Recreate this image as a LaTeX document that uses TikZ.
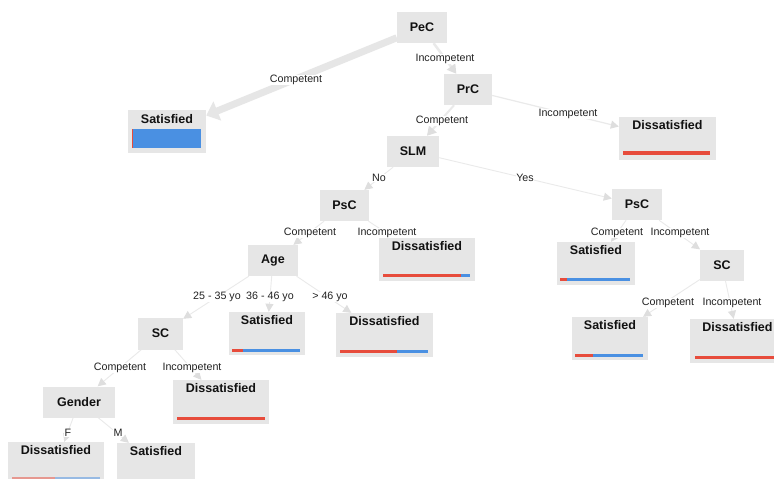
\documentclass[tikz,border=0pt]{standalone}
\usepackage{fontspec}
\setmainfont{Liberation Sans}
\usetikzlibrary{arrows.meta,backgrounds}
\definecolor{boxg}{HTML}{E6E6E6}
\definecolor{edg}{HTML}{EAEAEA}
\definecolor{thickg}{HTML}{E6E6E6}
\definecolor{tipg}{HTML}{DEDEDE}
\definecolor{barblue}{HTML}{4A90E2}
\definecolor{barred}{HTML}{E74C3C}
\definecolor{txt}{HTML}{111111}
\definecolor{ltxt}{HTML}{222222}
\begin{document}
\begin{tikzpicture}[x=1pt,y=-1pt,
  dec/.style={rectangle, fill=boxg, minimum height=31pt, inner sep=0pt,
    font=\bfseries\fontsize{12.5}{14}\selectfont, text=txt},
  leaf/.style={rectangle, fill=boxg, inner sep=0pt},
  ttl/.style={font=\bfseries\fontsize{12.5}{14}\selectfont, text=txt, inner sep=0pt},
  elab/.style={font=\fontsize{10.7}{12}\selectfont, text=ltxt, fill=white, inner sep=0.6pt},
  edge/.style={draw=edg, line width=0.9pt, -{Triangle[length=8pt,width=8pt,color=tipg]}},
  rbar/.style={fill=barred},
  bbar/.style={fill=barblue},
]
\useasboundingbox (0,0) rectangle (774,479);
\clip (0,0) rectangle (774,479);
\begin{pgfonlayer}{background}
\fill[white] (0,0) rectangle (774,479);
\end{pgfonlayer}

% decision nodes
\node[dec, minimum width=50pt] (pec) at (422,27.5) {PeC};
\node[dec, minimum width=48pt] (prc) at (468,89.5) {PrC};
\node[dec, minimum width=52pt] (slm) at (413,151.5) {SLM};
\node[dec, minimum width=49pt] (psc1) at (344.5,205.5) {PsC};
\node[dec, minimum width=50pt] (age) at (273,260.5) {Age};
\node[dec, minimum width=45pt, minimum height=32pt] (sc1) at (160.5,333.5) {SC};
\node[dec, minimum width=72pt] (gen) at (79,402) {Gender};
\node[dec, minimum width=50pt] (psc2) at (637,204.5) {PsC};
\node[dec, minimum width=44pt] (sc2) at (722,265) {SC};

% leaf nodes
\node[leaf, minimum width=78pt, minimum height=43pt] (sat1) at (167,131.5) {};
\node[leaf, minimum width=97pt, minimum height=43pt] (dis1) at (667.5,138.5) {};
\node[leaf, minimum width=96pt, minimum height=43pt] (dis2) at (427,259.5) {};
\node[leaf, minimum width=76pt, minimum height=43pt] (sat2) at (267,333.5) {};
\node[leaf, minimum width=97pt, minimum height=44pt] (dis3) at (384.5,335) {};
\node[leaf, minimum width=78pt, minimum height=43pt] (sat3) at (596,263.5) {};
\node[leaf, minimum width=76pt, minimum height=43pt] (sat4) at (610,338.5) {};
\node[leaf, minimum width=97pt, minimum height=44pt] (dis4) at (738.5,341) {};
\node[leaf, minimum width=96pt, minimum height=44pt] (dis5) at (221,402) {};
\node[leaf, minimum width=96pt, minimum height=44pt] (dis6) at (56,464) {};
\node[leaf, minimum width=78pt, minimum height=44pt] (sat5) at (156,465) {};

% leaf titles
\node[ttl] at ([yshift=-9pt]sat1.north) {Satisfied};
\node[ttl] at ([yshift=-8.5pt]dis1.north) {Dissatisfied};
\node[ttl] at ([yshift=-8.5pt]dis2.north) {Dissatisfied};
\node[ttl] at ([yshift=-8.5pt]sat2.north) {Satisfied};
\node[ttl] at ([yshift=-8.5pt]dis3.north) {Dissatisfied};
\node[ttl] at ([yshift=-8.5pt]sat3.north) {Satisfied};
\node[ttl] at ([yshift=-8.5pt]sat4.north) {Satisfied};
\node[ttl] at ([xshift=-1pt,yshift=-8.5pt]dis4.north) {Dissatisfied};
\node[ttl] at ([yshift=-8.5pt]dis5.north) {Dissatisfied};
\node[ttl] at ([yshift=-8.5pt]dis6.north) {Dissatisfied};
\node[ttl] at ([yshift=-8.5pt]sat5.north) {Satisfied};

% bars
\fill[bbar] (132,129) rectangle (201,148);
\fill[rbar] (132,129) rectangle (133.3,148);
\fill[rbar] (623,151) rectangle (710,155);
\fill[rbar] (383,274) rectangle (461,276.5);
\fill[bbar] (461,274) rectangle (470,276.5);
\fill[rbar] (232,349) rectangle (243,351.5);
\fill[bbar] (243,349) rectangle (300,351.5);
\fill[rbar] (340,350) rectangle (397,352.5);
\fill[bbar] (397,350) rectangle (428,352.5);
\fill[rbar] (560,278) rectangle (567,280.5);
\fill[bbar] (567,278) rectangle (630,280.5);
\fill[rbar] (575,354) rectangle (593,356.5);
\fill[bbar] (593,354) rectangle (643,356.5);
\fill[rbar] (695,356) rectangle (790,358.5);
\fill[rbar] (177,417) rectangle (265,419.5);
\fill[rbar, opacity=0.5] (12,477) rectangle (55,479.5);
\fill[bbar, opacity=0.5] (55,477) rectangle (100,479.5);

\begin{pgfonlayer}{background}
% edges
\draw[edge, draw=thickg, line width=7pt, -{Triangle[length=12pt,width=20pt,color=thickg]}] (pec) -- (sat1);
\draw[edge, line width=2.5pt, -{Triangle[length=9pt,width=10pt,color=tipg]}] (pec) -- (prc);
\draw[edge, line width=2pt, -{Triangle[length=9pt,width=10pt,color=tipg]}] (prc) -- (slm);
\draw[edge, line width=1.2pt] (prc) -- (dis1);
\draw[edge] (slm) -- (psc1);
\draw[edge] (slm) -- (psc2);
\draw[edge] (psc1) -- (age);
\draw[edge] (psc1) -- (dis2);
\draw[edge] (age) -- (sc1);
\draw[edge] (age) -- (sat2);
\draw[edge] (age) -- (dis3);
\draw[edge] (sc1) -- (gen);
\draw[edge] (sc1) -- (dis5);
\draw[edge] (gen) -- (dis6);
\draw[edge] (gen) -- (sat5);
\draw[edge] (psc2) -- (sat3);
\draw[edge] (psc2) -- (sc2);
\draw[edge] (sc2) -- (sat4);
\draw[edge] (sc2) -- (dis4);
% edge labels
\node[elab] (l1) at (296,80) {Competent};
\node[elab] (l2) at (445,59) {Incompetent};
\node[elab] (l3) at (442,121) {Competent};
\node[elab] (l4) at (568,114) {Incompetent};
\node[elab] (l5) at (379,178) {No};
\node[elab] (l6) at (525,178) {Yes};
\node[elab] (l7) at (310,233) {Competent};
\node[elab] (l8) at (387,233) {Incompetent};
\node[elab] (l9) at (217,297) {25 - 35 yo};
\node[elab] (l10) at (270,297) {36 - 46 yo};
\node[elab] (l11) at (330,297) {> 46 yo};
\node[elab] (l12) at (120,368) {Competent};
\node[elab] (l13) at (192,368) {Incompetent};
\node[elab] (l14) at (68,433) {F};
\node[elab] (l15) at (118,433) {M};
\node[elab] (l16) at (617,233) {Competent};
\node[elab] (l17) at (680,233) {Incompetent};
\node[elab] (l18) at (668,303) {Competent};
\node[elab] (l19) at (732,303) {Incompetent};
\end{pgfonlayer}
\end{tikzpicture}
\end{document}
